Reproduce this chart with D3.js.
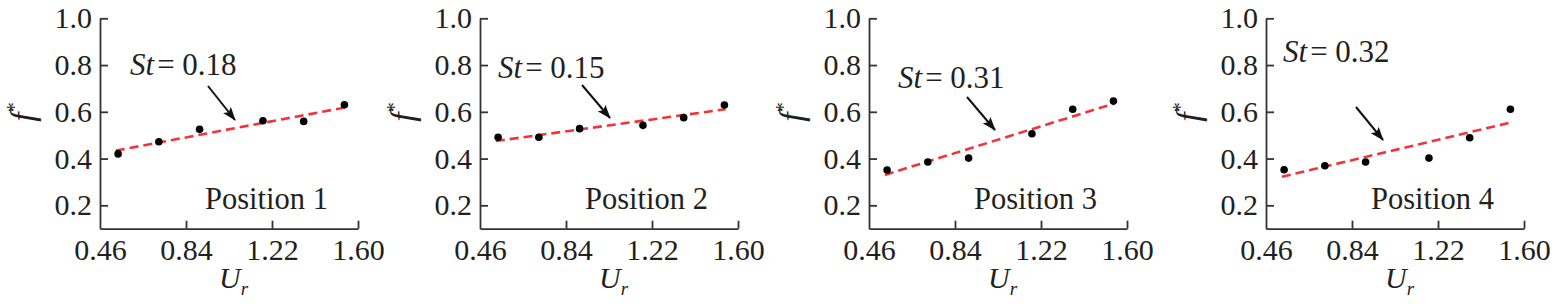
<!DOCTYPE html>
<html>
<head>
<meta charset="utf-8">
<script src="https://cdn.jsdelivr.net/npm/d3@7"></script>
<style>
  body { margin: 0; background: #fff; }
  svg text { font-family: "Liberation Serif", "Times New Roman", serif; fill: #231f20; }
</style>
</head>
<body>
<div class="chart"></div>
<script>
// values
const urValues = [0.54, 0.72, 0.90, 1.18, 1.36, 1.54];
const fPos1 = [0.420, 0.472, 0.525, 0.562, 0.559, 0.630];
const fPos2 = [0.491, 0.491, 0.528, 0.542, 0.575, 0.629];
const fPos3 = [0.351, 0.385, 0.402, 0.506, 0.611, 0.646];
const fPos4 = [0.352, 0.369, 0.385, 0.402, 0.489, 0.611];
const fitUr = [0.53, 1.545];
const fitStart = [0.434, 0.475, 0.330, 0.322];
const fitEnd = [0.619, 0.611, 0.636, 0.555];
const stLabels = ["0.18", "0.15", "0.31", "0.32"];
const positionLabels = ["Position 1", "Position 2", "Position 3", "Position 4"];
const xTicks = [0.46, 0.84, 1.22, 1.60];
const yTicks = [0.2, 0.4, 0.6, 0.8, 1.0];

const seriesF = [fPos1, fPos2, fPos3, fPos4];

//layout
const W = 1555, H = 307;
const panelLeft = [100, 480, 869, 1266];
const panelW = 258;
const plotTop = 18.3, plotBottom = 228.7;
const fontSize = 30;
// St label (x, baseline) and arrow start/end, local to the panel
const stPos = [[30, 75], [18, 78], [29, 88], [17, 62]];
const arrows = [
    [[108, 86], [135, 120]],
    [[102, 85], [130, 118]],
    [[98, 97], [126, 130]],
    [[90, 107], [117, 140]]
];

const svg = d3.select(".chart")
    .append("svg")
    .attr("width", W)
    .attr("height", H);

svg.append("defs").append("marker")
    .attr("id", "head")
    .attr("markerUnits", "userSpaceOnUse")
    .attr("viewBox", "0 0 14 10")
    .attr("refX", 13)
    .attr("refY", 5)
    .attr("markerWidth", 14)
    .attr("markerHeight", 10)
    .attr("orient", "auto")
    .append("path")
    .attr("d", "M0,0 L14,5 L0,10 L3,5 Z")
    .attr("fill", "#111");

const x = d3.scaleLinear().domain([0.46, 1.60]).range([0, panelW]);
const y = d3.scaleLinear().domain([0.1, 1.0]).range([plotBottom, plotTop]);

const line = d3.line()
    .x(d => x(d[0]))
    .y(d => y(d[1]));

seriesF.forEach((fVals, i) => {
    const g = svg.append("g").attr("transform", `translate(${panelLeft[i]},0)`);

    //Axes
    const yAxis = g.append("g")
        .call(d3.axisLeft(y)
            .tickValues(yTicks)
            .tickFormat(d3.format(".1f"))
            .tickSizeInner(-8)
            .tickSizeOuter(0)
            .tickPadding(8));
    const xAxis = g.append("g")
        .attr("transform", `translate(0,${plotBottom})`)
        .call(d3.axisBottom(x)
            .tickValues(xTicks)
            .tickFormat(d3.format(".2f"))
            .tickSizeInner(-8)
            .tickSizeOuter(0)
            .tickPadding(10));
    [yAxis, xAxis].forEach(ax => {
        ax.selectAll("path, line").attr("stroke", "#333").attr("stroke-width", 1.8);
        ax.selectAll("text")
            .attr("font-size", fontSize)
            .attr("fill", "#231f20");
    });
    xAxis.select(".tick line").remove();

    //Fit line
    g.append("path")
        .datum([[fitUr[0], fitStart[i]], [fitUr[1], fitEnd[i]]])
        .attr("d", line)
        .attr("fill", "none")
        .attr("stroke", "#f2343a")
        .attr("stroke-width", 2.6)
        .attr("stroke-dasharray", "9,5");

    //Points
    g.selectAll("circle")
        .data(urValues.map((u, k) => [u, fVals[k]]))
        .join("circle")
        .attr("cx", d => x(d[0]))
        .attr("cy", d => y(d[1]))
        .attr("r", 3.8)
        .attr("fill", "#000");

    //St annotation
    const st = g.append("text")
        .attr("x", stPos[i][0])
        .attr("y", stPos[i][1])
        .attr("font-size", 31);
    st.append("tspan").attr("font-style", "italic").text("St");
    st.append("tspan").attr("dx", 3).text("= " + stLabels[i]);

    g.append("line")
        .attr("x1", arrows[i][0][0])
        .attr("y1", arrows[i][0][1])
        .attr("x2", arrows[i][1][0])
        .attr("y2", arrows[i][1][1])
        .attr("stroke", "#111")
        .attr("stroke-width", 2)
        .attr("marker-end", "url(#head)");

    //Position label
    g.append("text")
        .attr("x", 105)
        .attr("y", 209)
        .attr("font-size", 30.5)
        .text(positionLabels[i]);

    //Axis titles
    const xt = g.append("text")
        .attr("x", 119)
        .attr("y", 288)
        .attr("font-size", fontSize);
    xt.append("tspan").attr("font-style", "italic").text("U");
    xt.append("tspan").attr("font-style", "italic")
        .attr("font-size", 19).attr("dy", 7).text("r");

    const yt = g.append("text")
        .attr("transform", "translate(-66,112) rotate(-90)")
        .attr("text-anchor", "middle")
        .attr("font-size", 34);
    yt.append("tspan").attr("font-style", "italic").text("f");
    yt.append("tspan").attr("font-size", 20).attr("dy", -13).text("*");
});
</script>
</body>
</html>
